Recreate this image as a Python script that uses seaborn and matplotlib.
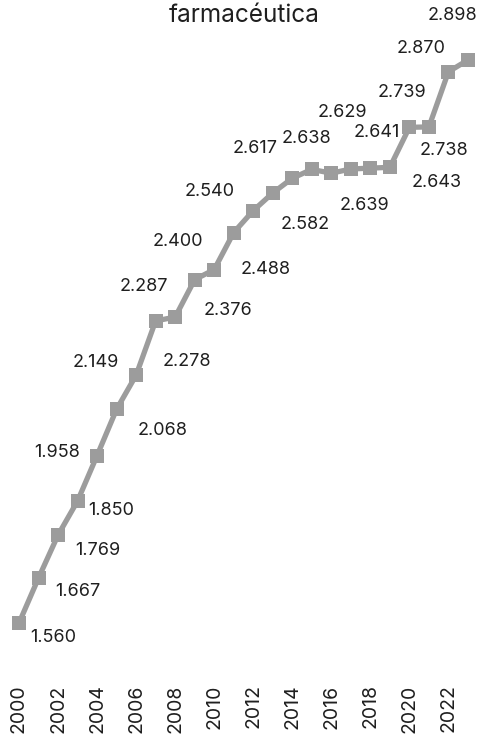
import matplotlib
matplotlib.use("Agg")
import matplotlib.pyplot as plt
import seaborn as sns
import pandas as pd

years = list(range(2000, 2024))
values = [1560, 1667, 1769, 1850, 1958, 2068, 2149, 2278, 2287, 2376, 2400, 2488,
          2540, 2582, 2617, 2638, 2629, 2639, 2641, 2643, 2738, 2739, 2870, 2898]
tick_years = list(range(2000, 2023, 2))
title = "farmacéutica"

# label offsets in pixels (dx, dy with dy downward) - layout only
label_offsets = [(34, 14), (39, 14), (40, 15), (34, 10), (-40, -3), (46, 21),
                 (-40, -13), (31, 41), (-31, -31), (33, 31), (-36, -28), (32, 37),
                 (-44, -19), (32, 32), (-37, -30), (-5, -31), (11, -61), (14, 37),
                 (6, -36), (47, 15), (35, 23), (-27, -34), (-27, -23), (-16, -45)]

sns.set_theme(style="white")
plt.rcParams['font.family'] = ['Inter', 'DejaVu Sans']

df = pd.DataFrame({"year": years, "value": values})

fig = plt.figure(figsize=(4.8, 7.41), dpi=100)
ax = fig.add_axes([0, 76 / 741, 1, 665 / 741])
color = "#9c9c9c"
sns.lineplot(data=df, x="year", y="value", ax=ax, color=color, linewidth=3.8,
             marker="s", markersize=9.5, markeredgewidth=0, markerfacecolor=color)

for (y, v), (dx, dy) in zip(zip(years, values), label_offsets):
    ax.annotate(f"{v:,}".replace(",", "."), (y, v), xytext=(dx, -dy),
                textcoords="offset pixels", ha="center", va="center",
                fontsize=13, color="#1f1f1f")

ax.set_xlim(1999.027, 2023.617)
ax.set_ylim(1460.2, 3040.6)
ax.set_xticks(tick_years)
ax.set_xticklabels([str(t) for t in tick_years], rotation=90, fontsize=14,
                   color="#1f1f1f")
ax.tick_params(axis="x", length=0, pad=14)
ax.set_yticks([])
ax.set_xlabel("")
ax.set_ylabel("")
for s in ax.spines.values():
    s.set_visible(False)

fig.text(244 / 480, 1 - 15 / 741, title, ha="center", va="center", fontsize=17.5,
         color="#1f1f1f")

fig.savefig("out.png", dpi=100, facecolor="white")
